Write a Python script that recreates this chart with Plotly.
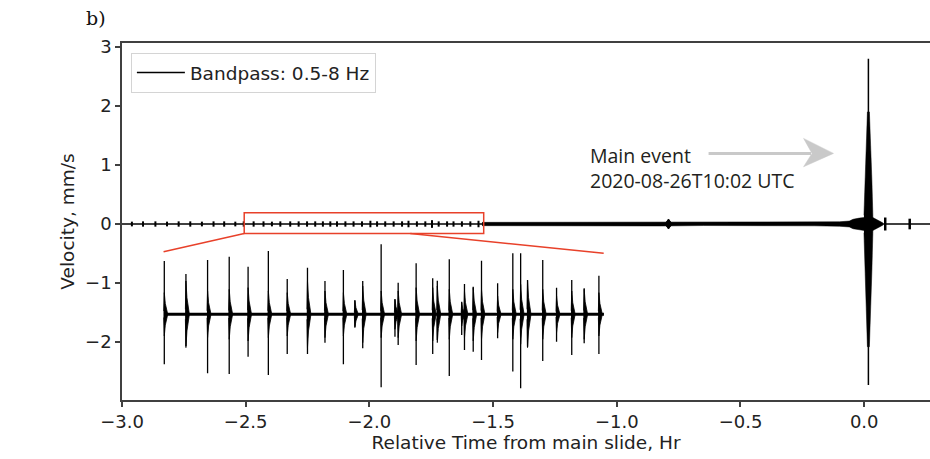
import plotly.graph_objects as go

# ---------------- data ----------------
x_tick_vals = [-3.0, -2.5, -2.0, -1.5, -1.0, -0.5, 0.0]
y_tick_vals = [-2, -1, 0, 1, 2, 3]

# sparse precursor events on the main trace (hr) and half amplitudes (mm/s)
precursor_t = [-2.960, -2.915, -2.865, -2.818, -2.771, -2.724, -2.677, -2.630,
               -2.587, -2.542, -2.508, -2.468, -2.428, -2.394, -2.360, -2.320,
               -2.286, -2.252, -2.219, -2.188, -2.158, -2.131, -2.097, -2.064,
               -2.030, -1.996, -1.969, -1.936, -1.902, -1.868, -1.842, -1.808,
               -1.774, -1.747, -1.720, -1.686, -1.660, -1.626, -1.592, -1.559]
precursor_amp = [0.04, 0.045, 0.045, 0.04, 0.045, 0.045, 0.04, 0.045,
                 0.045, 0.04, 0.045, 0.045, 0.045, 0.04, 0.045, 0.045,
                 0.045, 0.045, 0.045, 0.045, 0.045, 0.045, 0.045, 0.045,
                 0.045, 0.055, 0.045, 0.045, 0.045, 0.045, 0.055, 0.045,
                 0.045, 0.065, 0.045, 0.045, 0.045, 0.045, 0.045, 0.055]

# dense precursor band / growing noise before the main event (envelope half width)
band_t = [-1.545, -1.2, -0.82, -0.65, -0.4, -0.2, -0.1, -0.06, -0.045,
          -0.02, 0.0, 0.035, 0.05, 0.065, 0.075]
band_hw = [0.028, 0.03, 0.034, 0.026, 0.027, 0.031, 0.038, 0.05, 0.08,
           0.1, 0.11, 0.11, 0.08, 0.04, 0.02]

# isolated event at about -0.79 hr
mid_event_t = [-0.802, -0.791, -0.780]
mid_event_hw = [0.02, 0.085, 0.02]

# main event body (spindle) and peak
main_body_t = [-0.001, 0.003, 0.009, 0.013, 0.021, 0.025, 0.031, 0.035]
main_body_up = [0.15, 0.75, 1.5, 1.9, 1.9, 1.5, 0.75, 0.15]
main_body_lo = [-0.15, -0.8, -1.6, -2.08, -2.08, -1.6, -0.8, -0.15]
main_peak_t = 0.017
main_peak_up = 2.8
main_peak_lo = -2.73

# small events after the main event
after_t = [0.085, 0.184]
after_amp = [0.11, 0.09]

# zoomed inset: event times (hr), positive / negative peaks and coda size (rel. units)
inset_t = [-2.495, -2.448, -2.401, -2.354, -2.313, -2.269, -2.228, -2.184,
           -2.146, -2.106, -2.081, -2.064, -2.024, -1.994, -1.987, -1.948,
           -1.912, -1.902, -1.876, -1.849, -1.843, -1.824, -1.806, -1.771,
           -1.738, -1.721, -1.706, -1.673, -1.643, -1.610, -1.583, -1.551]
inset_up = [1.60, 1.21, 1.63, 1.73, 1.43, 1.90, 1.06, 1.40,
            1.00, 1.33, 0.43, 1.00, 2.10, 0.45, 0.95, 1.53,
            1.08, 1.01, 1.65, 0.38, 0.91, 0.83, 1.61, 0.93,
            1.83, 1.83, 1.03, 1.63, 0.80, 1.03, 0.78, 1.16]
inset_down = [1.50, 0.95, 1.77, 1.79, 1.27, 1.82, 1.19, 1.19,
              0.85, 1.50, 0.37, 1.02, 2.19, 0.67, 0.92, 1.52,
              1.19, 0.77, 1.85, 0.62, 1.07, 1.12, 1.37, 0.72,
              1.72, 2.22, 0.97, 1.40, 0.82, 1.22, 0.87, 1.19]
inset_coda = [0.65, 1.0, 0.7, 0.75, 0.8, 0.7, 0.65, 1.0,
              0.7, 0.65, 0.4, 0.85, 0.7, 0.45, 0.7, 0.8,
              0.8, 0.85, 0.75, 0.35, 0.7, 0.8, 0.75, 0.55,
              0.75, 0.9, 1.0, 0.75, 0.55, 0.7, 0.75, 0.65]
inset_window = [-2.5, -1.54]

# zoom box and connector lines (hr, mm/s)
zoom_box_x = [-2.506, -1.538]
zoom_box_y = [-0.16, 0.19]
connector_from = [(-2.506, -0.16), (-1.835, -0.16)]
connector_to = [(-2.832, -0.469), (-1.053, -0.496)]

# annotation arrow (hr, mm/s)
arrow_shaft_x = [-0.629, -0.215]
arrow_y = 1.197
arrow_head_x = [-0.245, -0.211, -0.124]
arrow_head_y = [1.451, 0.970]

legend_name = "Bandpass: 0.5-8 Hz"
event_text = "Main event<br>2020-08-26T10:02 UTC"

# ---------------- figure ----------------
BLACK = "#000000"
AX = "#404040"
RED = "#e8412a"
FONT = "DejaVu Sans"

fig = go.Figure()


def segs(ts, lo, hi):
    xs, ys = [], []
    for t, a, b in zip(ts, lo, hi):
        xs += [t, t, None]
        ys += [a, b, None]
    return xs, ys


def spindles(ts, amps, dt_before, dt_peak, dt_after):
    xs, ys = [], []
    for t, c in zip(ts, amps):
        xs += [t - dt_before, t, t + dt_peak, t + dt_after, t + dt_peak, t, t - dt_before, None]
        ys += [0.15 * c, c, 0.5 * c, 0, -0.5 * c, -c, -0.15 * c, None]
    return xs, ys


# baseline (legend trace)
fig.add_trace(go.Scatter(x=[x_tick_vals[0], 0.266], y=[0, 0], mode="lines",
                         line=dict(color=BLACK, width=1.6), name=legend_name,
                         showlegend=True, hoverinfo="skip"))

# sparse precursor ticks
xs, ys = segs(precursor_t, [-a for a in precursor_amp], precursor_amp)
fig.add_trace(go.Scatter(x=xs, y=ys, mode="lines", line=dict(color=BLACK, width=2),
                         showlegend=False, hoverinfo="skip"))

# dense band envelope
fig.add_trace(go.Scatter(x=band_t + band_t[::-1],
                         y=band_hw + [-h for h in band_hw[::-1]],
                         mode="lines", fill="toself", fillcolor=BLACK,
                         line=dict(color=BLACK, width=0.5), showlegend=False,
                         hoverinfo="skip"))

# mid event
fig.add_trace(go.Scatter(x=mid_event_t + mid_event_t[::-1],
                         y=mid_event_hw + [-h for h in mid_event_hw[::-1]],
                         mode="lines", fill="toself", fillcolor=BLACK,
                         line=dict(color=BLACK, width=1), showlegend=False,
                         hoverinfo="skip"))

# main event body
fig.add_trace(go.Scatter(x=main_body_t + main_body_t[::-1],
                         y=main_body_up + main_body_lo[::-1],
                         mode="lines", fill="toself", fillcolor=BLACK,
                         line=dict(color=BLACK, width=0.5), showlegend=False,
                         hoverinfo="skip"))
fig.add_trace(go.Scatter(x=[main_peak_t, main_peak_t], y=[main_peak_lo, main_peak_up],
                         mode="lines", line=dict(color=BLACK, width=1.5),
                         showlegend=False, hoverinfo="skip"))

# after events
xs, ys = segs(after_t, [-a for a in after_amp], after_amp)
fig.add_trace(go.Scatter(x=xs, y=ys, mode="lines", line=dict(color=BLACK, width=2.5),
                         showlegend=False, hoverinfo="skip"))

# ---- inset ----
fig.add_trace(go.Scatter(x=[inset_t[0], inset_window[1]], y=[0, 0], mode="lines",
                         line=dict(color=BLACK, width=3), xaxis="x2", yaxis="y2",
                         showlegend=False, hoverinfo="skip"))
xs, ys = segs(inset_t, [-d for d in inset_down], inset_up)
fig.add_trace(go.Scatter(x=xs, y=ys, mode="lines", line=dict(color=BLACK, width=1.3),
                         xaxis="x2", yaxis="y2", showlegend=False, hoverinfo="skip"))
xs, ys = spindles(inset_t, inset_coda, 0.0012, 0.0022, 0.0075)
fig.add_trace(go.Scatter(x=xs, y=ys, mode="lines", fill="toself", fillcolor=BLACK,
                         line=dict(color=BLACK, width=0.8),
                         xaxis="x2", yaxis="y2", showlegend=False, hoverinfo="skip"))

# ---- shapes ----
shapes = [
    dict(type="rect", xref="x", yref="y", x0=zoom_box_x[0], x1=zoom_box_x[1],
         y0=zoom_box_y[0], y1=zoom_box_y[1], line=dict(color=RED, width=1.5)),
]
for (x0, y0), (x1, y1) in zip(connector_from, connector_to):
    shapes.append(dict(type="line", xref="x", yref="y", x0=x0, y0=y0, x1=x1, y1=y1,
                       line=dict(color=RED, width=1.5)))
shapes.append(dict(type="line", xref="x", yref="y", x0=arrow_shaft_x[0], x1=arrow_shaft_x[1],
                   y0=arrow_y, y1=arrow_y, line=dict(color="#c9c9c9", width=3)))
hx = arrow_head_x
path = (f"M {hx[2]},{arrow_y} L {hx[0]},{arrow_head_y[0]} L {hx[1]},{arrow_y} "
        f"L {hx[0]},{arrow_head_y[1]} Z")
shapes.append(dict(type="path", xref="x", yref="y", path=path,
                   fillcolor="#c9c9c9", line=dict(color="#c9c9c9", width=0.5)))

annotations = [
    dict(text="b)", xref="paper", yref="paper", x=-0.047, y=1.07, xanchor="left",
         yanchor="middle", showarrow=False,
         font=dict(family="DejaVu Serif", size=19, color="#111111")),
    dict(text=event_text, xref="x", yref="y", x=-1.118, y=0.957, xanchor="left",
         yanchor="middle", align="left", showarrow=False,
         font=dict(family="Open Sans", size=19.5, color="#231f20")),
]

fig.update_layout(
    width=930, height=459,
    margin=dict(l=122, r=0, t=43, b=59),
    paper_bgcolor="white", plot_bgcolor="white",
    font=dict(family=FONT, size=18, color="#222222"),
    shapes=shapes, annotations=annotations,
    showlegend=True,
    legend=dict(x=0.011, y=0.972, xanchor="left", yanchor="top",
                bgcolor="white", bordercolor="#d4d4d4", borderwidth=1,
                font=dict(family=FONT, size=18.5, color="#222222"),
                itemwidth=48),
    xaxis=dict(range=[-3.0, 0.266], tickvals=x_tick_vals, tickformat=".1f",
               showline=True, mirror=True, linecolor=AX, linewidth=1.5,
               ticks="outside", ticklen=5, tickwidth=1.5, tickcolor=AX,
               showgrid=False, zeroline=False,
               title=dict(text="Relative Time from main slide, Hr", standoff=4,
                          font=dict(family=FONT, size=18.5))),
    yaxis=dict(range=[-2.983, 3.068], tickvals=y_tick_vals,
               showline=True, mirror=False, linecolor=AX, linewidth=1.5,
               ticks="outside", ticklen=5, tickwidth=1.5, tickcolor=AX,
               showgrid=False, zeroline=False,
               title=dict(text="Velocity, mm/s", standoff=6,
                          font=dict(family=FONT, size=18.5))),
    xaxis2=dict(domain=[0.0495, 0.5965], range=inset_window, anchor="y2",
                visible=False, showgrid=False, zeroline=False),
    yaxis2=dict(domain=[0.0067, 0.4734], range=[-2.5, 2.5], anchor="x2",
                visible=False, showgrid=False, zeroline=False),
)

fig.write_html("out.html", config={"displayModeBar": False},
               post_script="document.body.style.margin='0';document.body.style.overflow='hidden';")
